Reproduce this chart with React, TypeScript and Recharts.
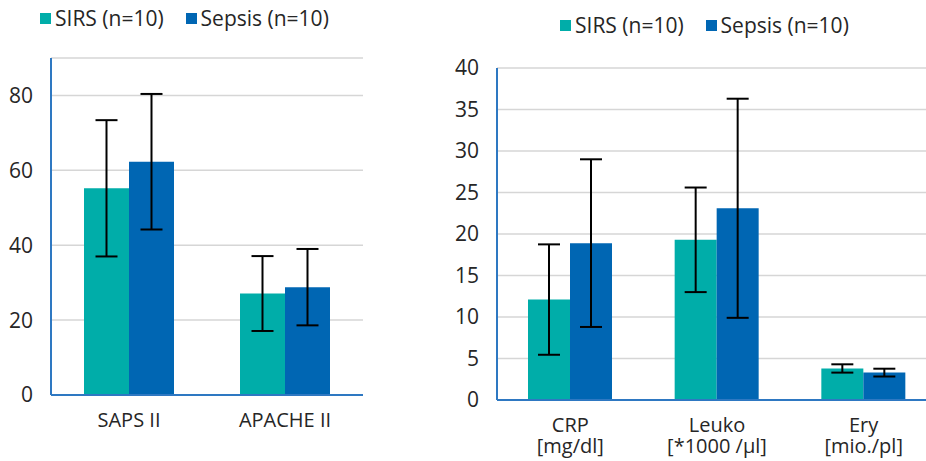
import React from 'react';
import { BarChart, Bar, XAxis, YAxis, CartesianGrid, ErrorBar, Legend } from 'recharts';

const seriesNames = ['SIRS (n=10)', 'Sepsis (n=10)'];
const seriesColors = ['#00ADA9', '#0066B3'];

const leftCategories = ['SAPS II', 'APACHE II'];
const leftSirs = [55.2, 27.1];
const leftSirsSd = [18.2, 10.0];
const leftSepsis = [62.3, 28.8];
const leftSepsisSd = [18.1, 10.2];
const leftTicks = [0, 20, 40, 60, 80];

const rightCategories = ['CRP\n[mg/dl]', 'Leuko\n[*1000 /µl]', 'Ery\n[mio./pl]'];
const rightSirs = [12.1, 19.3, 3.8];
const rightSirsSd = [6.65, 6.3, 0.5];
const rightSepsis = [18.9, 23.1, 3.3];
const rightSepsisSd = [10.1, 13.2, 0.47];
const rightTicks = [0, 5, 10, 15, 20, 25, 30, 35, 40];

const FONT = '"Open Sans", "Noto Sans", sans-serif';
const TEXT = '#262626';
const AXIS = '#2E78C2';
const GRID = '#D6D6D6';
const FS = 21;
const CAT_FS = 20;

const leftData = leftCategories.map((c, i) => ({
  name: c, sirs: leftSirs[i], sirsSd: leftSirsSd[i], sepsis: leftSepsis[i], sepsisSd: leftSepsisSd[i],
}));
const rightData = rightCategories.map((c, i) => ({
  name: c, sirs: rightSirs[i], sirsSd: rightSirsSd[i], sepsis: rightSepsis[i], sepsisSd: rightSepsisSd[i],
}));

const CatTick = (props: any) => {
  const { x, y, payload } = props;
  const lines = String(payload.value).split('\n');
  return (
    <text x={x} y={y} textAnchor="middle" fill={TEXT} fontSize={CAT_FS} fontFamily={FONT}>
      {lines.map((l, i) => (
        <tspan key={i} x={x} dy={i === 0 ? 32 : 21}>{l}</tspan>
      ))}
    </text>
  );
};

const makeLegend = (gap: number) => () => (
  <div style={{ display: 'flex', alignItems: 'center', fontFamily: FONT, fontSize: FS, color: TEXT, whiteSpace: 'nowrap', height: 26 }}>
    {seriesNames.map((n, i) => (
      <div key={n} style={{ display: 'flex', alignItems: 'center', marginRight: i === 0 ? gap : 0 }}>
        <div style={{ width: 11, height: 11, background: seriesColors[i], marginRight: 4 }} />
        <span>{n}</span>
      </div>
    ))}
  </div>
);

export default function App() {
  return (
    <div style={{ position: 'fixed', left: 0, top: 0, width: 926, height: 461, overflow: 'hidden', background: '#fff' }}>
      <div style={{ position: 'absolute', left: 0, top: 0 }}>
        <BarChart width={380} height={461} data={leftData} margin={{ top: 32, right: 17, left: 0, bottom: 36 }} barGap={0} barSize={45}>
          <CartesianGrid vertical={false} stroke={GRID} strokeWidth={1.5} />
          <XAxis dataKey="name" height={30} tick={<CatTick />} tickLine={false} tickSize={0} tickMargin={0}
            axisLine={{ stroke: AXIS, strokeWidth: 2 }} interval={0} />
          <YAxis width={51} domain={[0, 90]} ticks={leftTicks} tickLine={false} tickSize={0} tickMargin={18}
            axisLine={{ stroke: AXIS, strokeWidth: 2 }} tick={{ fill: TEXT, fontSize: FS, fontFamily: FONT }} />
          <Legend verticalAlign="top" content={makeLegend(22)} wrapperStyle={{ position: 'absolute', left: 40, top: 5, width: 'auto' }} />
          <Bar dataKey="sirs" name={seriesNames[0]} fill={seriesColors[0]} isAnimationActive={false}>
            <ErrorBar dataKey="sirsSd" width={11} strokeWidth={2} stroke="#000" />
          </Bar>
          <Bar dataKey="sepsis" name={seriesNames[1]} fill={seriesColors[1]} isAnimationActive={false}>
            <ErrorBar dataKey="sepsisSd" width={11} strokeWidth={2} stroke="#000" />
          </Bar>
        </BarChart>
      </div>
      <div style={{ position: 'absolute', left: 446, top: 0 }}>
        <BarChart width={491} height={461} data={rightData} margin={{ top: 42, right: 0, left: 0, bottom: 11 }} barGap={0} barSize={42}>
          <CartesianGrid vertical={false} stroke={GRID} strokeWidth={1.5} />
          <XAxis dataKey="name" height={50} tick={<CatTick />} tickLine={false} tickSize={0} tickMargin={0}
            axisLine={{ stroke: AXIS, strokeWidth: 2 }} interval={0} />
          <YAxis width={51} domain={[0, 40]} ticks={rightTicks} tickLine={false} tickSize={0} tickMargin={18}
            axisLine={{ stroke: AXIS, strokeWidth: 2 }} tick={{ fill: TEXT, fontSize: FS, fontFamily: FONT }} />
          <Legend verticalAlign="top" content={makeLegend(22)} wrapperStyle={{ position: 'absolute', left: 114, top: 12, width: 'auto' }} />
          <Bar dataKey="sirs" name={seriesNames[0]} fill={seriesColors[0]} isAnimationActive={false}>
            <ErrorBar dataKey="sirsSd" width={11} strokeWidth={2} stroke="#000" />
          </Bar>
          <Bar dataKey="sepsis" name={seriesNames[1]} fill={seriesColors[1]} isAnimationActive={false}>
            <ErrorBar dataKey="sepsisSd" width={11} strokeWidth={2} stroke="#000" />
          </Bar>
        </BarChart>
      </div>
    </div>
  );
}
